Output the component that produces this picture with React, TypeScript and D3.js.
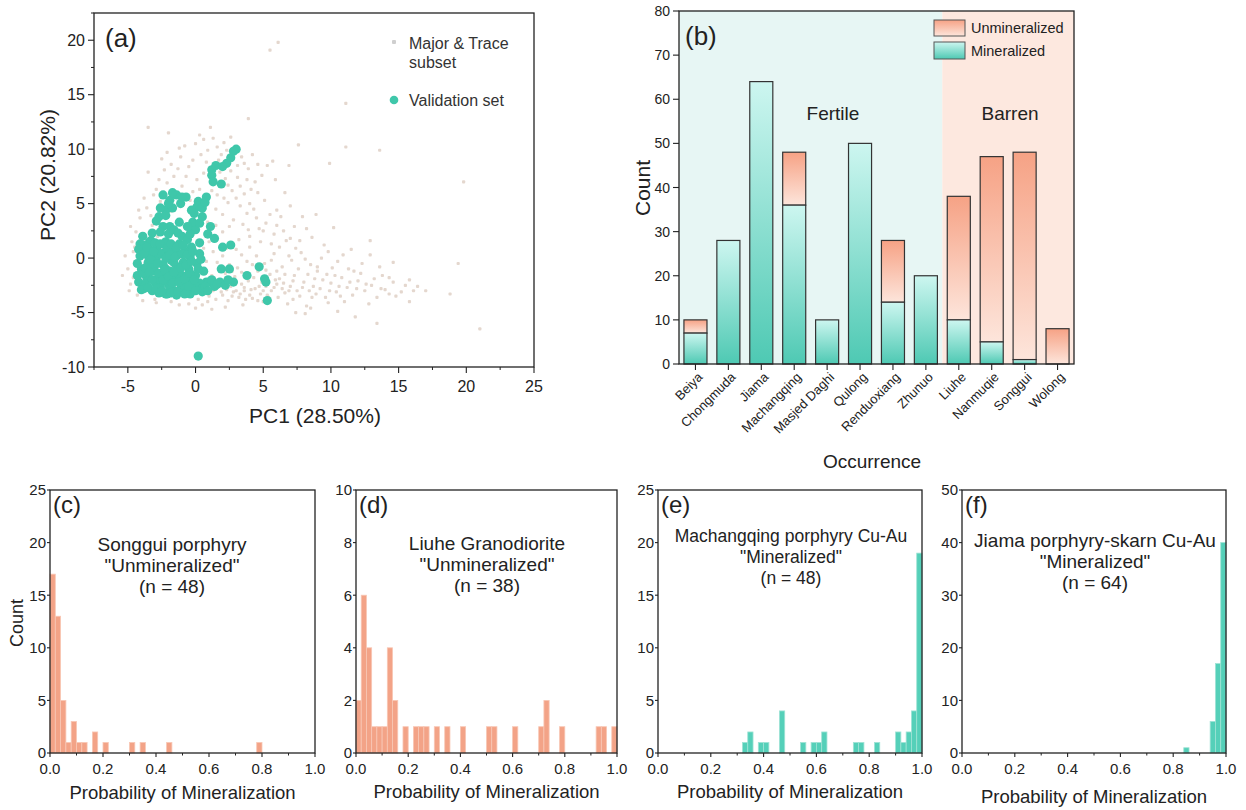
import React from 'react';
import * as d3 from 'd3';

const FONT = '"Liberation Sans", Arial, Helvetica, sans-serif';

// ---- (a) PCA scores ----
const subsetPoints: [number, number][] = [
  [-4.8, -2.4], [-4.6, 0.6], [-4.4, 2.4], [-4.1, 3.7], [-3.6, 4.6], [-5.0, -1.0], [-4.3, -3.4], [-4.7, 1.5], [-3.9, -3.9],
  [-3.5, 7.9], [-2.1, 9.7], [-1.1, 9.3], [-2.3, 8.1], [-1.6, 7.5], [-0.8, 10.3], [0.0, 10.5], [0.6, 10.9], [1.3, 11.0],
  [1.6, 10.2], [2.1, 10.6], [2.6, 11.1], [-2.9, 6.3], [-2.1, 6.9], [-1.0, 6.6], [0.1, 7.2], [0.8, 8.8], [1.9, 9.5],
  [2.6, 8.0], [3.1, 8.5], [3.6, 8.7], [4.2, 9.5], [4.6, 8.6], [5.3, 8.5], [5.7, 8.9], [3.8, 7.2], [4.1, 6.3], [3.6, 5.9],
  [3.0, 5.5], [2.7, 6.2], [4.6, 6.0], [3.3, 4.8], [2.4, 5.1], [2.0, 4.0], [2.8, 3.5], [3.5, 3.1], [4.5, 3.7], [5.0, 2.5],
  [4.0, 2.0], [3.2, 1.7], [4.8, 1.5], [5.6, 1.3], [6.0, 3.0], [6.5, 2.5], [7.0, 1.8], [5.5, 4.0], [-3.2, 3.0], [-2.8, 2.0],
  [-3.8, 5.5], [-0.5, 8.4], [0.3, 6.3], [1.5, 4.5], [-1.8, 4.3], [-0.4, 5.3], [0.9, 3.3], [1.2, 6.2], [2.2, 7.3], [3.3, 6.6],
  [4.0, 5.0], [5.1, 5.3], [-2.6, 5.2], [-1.3, 8.2], [0.4, 9.5], [1.0, 7.6], [2.0, 2.4], [1.0, 1.5], [0.5, 0.4], [1.6, -0.4],
  [-0.8, -0.2],
  [-0.2, 9.0], [0.9, 9.9], [1.7, 9.0], [2.3, 9.9], [3.4, 9.3], [3.9, 8.2], [4.9, 7.6], [5.9, 7.2], [4.4, 7.0], [3.1, 7.4],
  [2.4, 6.7], [1.6, 5.8], [2.1, 5.5], [3.8, 4.1], [4.3, 4.5], [5.2, 3.2], [5.8, 2.2], [6.3, 3.8], [7.3, 2.9], [3.9, 2.6],
  [2.5, 2.9], [1.5, 3.0], [-0.7, 7.5], [-1.8, 8.6], [-2.7, 7.2], [-3.1, 5.8], [-0.2, 6.1], [0.6, 7.8], [1.8, 7.9],
  [-1.2, 10.1], [-2.5, 9.1], [0.3, 11.3], [1.1, 12.0], [6.6, 6.0], [7.0, 4.8], [7.9, 3.8], [8.6, 1.9], [9.0, -0.8],
  [-5.2, 0.2], [-4.9, -3.0], [-4.6, -1.8], [-4.5, 1.0], [-4.8, 2.9], [-4.2, 4.4], [-3.3, 3.9], [-2.9, -4.1], [-1.2, -4.3],
  [0.0, -4.6], [1.2, -4.7], [-5.4, -1.6],
  [5.5, 19.1], [6.1, 19.8], [11.1, 14.2], [3.9, 12.8], [7.6, 10.4], [11.1, 10.2], [13.6, 9.9], [9.9, 8.7], [19.8, 7.0],
  [12.9, 1.6], [12.9, 0.3], [14.6, -0.4], [19.4, -0.5], [15.8, -2.0], [16.1, -3.0], [17.0, -3.0], [18.8, -3.3], [15.8, -4.0],
  [11.8, -5.4], [13.4, -6.0], [21.0, -6.5], [7.4, -5.0], [8.1, -5.1], [14.3, -1.8], [13.6, -0.8], [8.2, 2.7], [7.7, 1.6],
  [6.7, 1.6], [6.0, 4.4], [4.7, 2.7], [9.5, 1.2], [8.9, 4.0], [10.2, 2.8], [6.9, 8.5], [-3.5, 12.0], [-2.0, 11.5], [8.5, -4.6],
  [10.5, -4.9],
  [1.0, -3.5], [1.5, -3.8], [2.0, -3.4], [2.4, -3.9], [2.8, -3.1], [3.2, -3.6], [3.6, -3.0], [4.0, -3.4], [4.4, -2.8],
  [4.8, -3.3], [5.2, -2.6], [5.6, -3.0], [6.0, -2.4], [1.2, -1.6], [1.8, -2.0], [2.2, -1.4], [2.9, -1.7], [3.4, -2.4],
  [3.9, -2.1], [4.3, -1.8], [4.9, -2.2], [5.5, -1.5], [6.2, -1.9], [6.6, -3.2], [7.0, -2.6], [7.3, -1.6], [7.7, -3.5],
  [8.0, -2.2], [8.4, -3.0], [8.8, -1.9], [9.2, -2.8], [9.6, -3.6], [10.0, -2.3], [10.4, -3.1], [10.8, -1.8], [11.2, -2.7],
  [11.6, -3.4], [12.0, -2.1], [12.5, -3.0], [13.0, -2.5], [13.4, -3.6], [14.0, -2.9], [14.6, -2.2], [15.2, -3.1], [2.5, -0.6],
  [3.1, -0.9], [3.8, -0.3], [4.5, 0.2], [5.1, -0.5], [5.8, 0.4], [6.4, -0.8], [7.1, -0.2], [7.8, 0.5], [8.5, -0.6], [9.3, 0.0],
  [10.1, -0.9], [10.9, 0.3], [11.7, -1.2], [6.8, -4.2], [8.2, -4.4], [9.8, -4.1], [5.0, -4.0], [3.5, -4.3], [2.2, -4.5],
  [0.5, -4.3], [-0.5, -4.2], [-1.8, -4.0], [-3.0, -3.8], [11.0, -4.0], [12.8, -4.2], [1.6, -2.7], [2.6, -2.6], [3.0, -3.0],
  [4.2, -3.7], [5.4, -3.6], [6.4, -2.8], [7.5, -3.0], [8.6, -3.6], [9.0, -1.2], [7.6, -1.0], [6.0, -1.2], [4.6, -1.2],
  [3.4, -1.3], [10.6, -2.6], [12.2, -1.4], [13.8, -1.6], [14.8, -3.5], [1.8, -0.8], [0.8, -0.3], [1.3, 0.6], [2.0, 0.2],
  [3.0, 0.8], [4.0, 1.0], [0.6, 0.9],
  [0.2, -3.8], [0.9, -4.0], [1.3, -3.0], [1.9, -3.1], [2.3, -2.9], [2.7, -3.5], [3.3, -3.3], [3.7, -3.8], [4.1, -2.9],
  [4.6, -3.9], [5.0, -3.0], [5.3, -3.4], [5.8, -2.7], [6.1, -3.6], [6.5, -2.3], [6.9, -3.0], [7.2, -3.8], [7.9, -2.7],
  [8.3, -1.5], [8.7, -2.6], [9.4, -2.0], [9.9, -3.0], [10.3, -1.6], [10.7, -3.5], [11.4, -2.2], [11.9, -2.8], [12.6, -2.4],
  [13.2, -1.9], [13.7, -2.8], [14.3, -3.3], [15.5, -2.5], [16.4, -2.6], [2.1, -2.3], [3.6, -2.7], [4.7, -2.6], [5.9, -2.0],
  [7.2, -2.1], [8.9, -3.3], [9.7, -1.5], [11.3, -1.0], [6.6, -1.5], [5.2, -1.1], [3.9, -1.5], [2.7, -1.2], [4.2, -0.6],
  [5.6, -0.2], [6.9, 0.2], [8.1, -0.1], [9.8, 0.6], [10.5, -0.3], [11.5, 0.8], [12.3, -0.5], [3.4, 0.3], [2.3, 0.9],
  [6.2, 1.0], [7.4, 0.9],
];

const validationPoints: [number, number][] = [
  [3.0, 10.0], [2.3, 8.7], [1.2, 8.1], [1.2, 7.6], [1.9, 6.8], [0.8, 5.6], [0.1, 4.7], [-0.1, 4.1], [-1.2, 3.3], [-0.7, 5.6],
  [-1.4, 5.8], [-1.9, 5.3], [-2.2, 4.4], [-2.7, 3.8], [-1.9, 2.9], [-0.1, 2.7], [0.5, 3.8], [0.9, 2.2], [1.4, 1.8], [2.0, 1.0],
  [2.6, 1.2], [-4.1, 1.3], [-3.4, 1.5], [1.9, -1.0], [2.5, -1.0], [4.7, -0.8], [3.8, -1.6], [5.1, -1.9], [5.2, -2.2],
  [5.3, -3.9], [1.8, -2.2], [2.8, -2.2], [0.8, -2.2], [0.5, -3.1], [-0.4, -3.3], [-1.4, -3.4], [-2.2, -3.3], [0.2, -9.0],
  [-4.2, -2.2], [-4.0, -1.0], [-4.1, 0.2], [-3.9, 1.2], [-3.8, -2.8], [-3.6, -1.8], [-3.5, -0.4], [-3.4, 0.8], [-3.3, 1.6],
  [-3.2, -3.0], [-3.0, -2.2], [-3.0, -1.2], [-2.9, 0.0], [-2.8, 1.1], [-2.7, -3.2], [-2.6, -2.6], [-2.5, -1.6], [-2.4, -0.6],
  [-2.3, 0.5], [-2.2, 1.5], [-2.1, -3.3], [-2.0, -2.4], [-1.9, -1.2], [-1.8, -0.2], [-1.7, 0.8], [-1.6, -3.0], [-1.5, -2.0],
  [-1.4, -0.8], [-1.3, 0.3], [-1.2, 1.3], [-1.1, -2.8], [-1.0, -1.6], [-0.9, -0.4], [-0.8, 0.6], [-0.7, -3.1], [-0.6, -2.2],
  [-0.5, -1.0], [-0.4, 0.1], [-0.3, 1.0], [-0.2, -2.7], [0.0, -1.6], [0.1, -0.5], [0.3, 0.4], [-3.7, -2.4], [-3.1, -0.8],
  [-2.6, 0.4], [-2.2, -1.0], [-1.9, -2.8], [-1.3, -1.4], [-0.9, -2.4], [-3.5, 0.2], [-4.3, -1.6], [-2.8, -1.9], [-1.6, -0.4],
  [-0.6, -1.6], [0.3, -2.3], [0.6, -1.2], [0.5, -2.8], [1.0, -2.2], [1.4, -2.6], [-2.0, 2.2], [-1.6, 2.6], [-2.4, 2.9],
  [-1.0, 2.0], [-0.6, 1.7], [0.0, 2.6], [-0.2, 3.3], [-2.9, 3.4], [-2.2, 3.9], [-1.7, 4.6], [-1.1, 5.0],
  [-4.3, -0.5], [-4.2, 0.8], [-4.0, -2.9], [-3.9, -1.4], [-3.8, 0.4], [-3.7, -0.9], [-3.6, 1.0], [-3.5, -2.7], [-3.4, -1.3],
  [-3.3, -0.1], [-3.2, -2.0], [-3.1, 0.6], [-3.0, 1.4], [-2.9, -2.8], [-2.8, -0.5], [-2.7, -1.4], [-2.6, 1.3], [-2.5, -3.0],
  [-2.4, -2.0], [-2.3, -1.1], [-2.2, 0.0], [-2.1, 0.9], [-2.0, -1.7], [-1.9, 0.3], [-1.8, -3.2], [-1.8, 1.3], [-1.7, -2.3],
  [-1.6, -1.3], [-1.5, 0.1], [-1.4, 1.0], [-1.3, -3.1], [-1.2, -2.2], [-1.1, -0.9], [-1.0, 0.4], [-0.9, 1.2], [-0.8, -3.3],
  [-0.8, -1.9], [-0.7, -0.6], [-0.6, 0.3], [-0.5, -2.6], [-0.4, -1.4], [-0.3, -0.3], [-0.2, 0.6], [-0.1, -2.0], [0.0, -3.0],
  [0.2, -1.0], [0.4, -0.1], [0.7, -2.6], [0.9, -3.0], [1.2, -2.0], [1.6, -2.4], [2.2, -2.5], [2.4, -2.0], [-3.9, 2.0],
  [-3.2, 2.3], [-2.6, 2.4], [-1.3, 2.3], [-0.4, 2.2], [0.3, 1.4], [-2.6, 4.6], [-2.0, 5.0], [-1.0, 5.6], [-0.3, 4.4],
  [0.2, 5.2], [0.5, 4.6], [-2.4, 5.8], [-1.7, 6.0], [0.3, 3.2], [-0.6, 2.9], [1.1, 2.9], [1.3, 7.0], [1.5, 8.5], [2.6, 9.2],
  [2.8, 9.8], [2.0, 8.4], [0.7, 5.1],
];

const pcXTicks = [-5, 0, 5, 10, 15, 20, 25];
const pcYTicks = [-10, -5, 0, 5, 10, 15, 20];

// ---- (b) counts per occurrence ----
const occurrences = ['Beiya', 'Chongmuda', 'Jiama', 'Machangqing', 'Masjed Daghi', 'Qulong', 'Renduoxiang', 'Zhunuo', 'Liuhe', 'Nanmuqie', 'Songgui', 'Wolong'];
const mineralizedCounts = [7, 28, 64, 36, 10, 50, 14, 20, 10, 5, 1, 0];
const unmineralizedCounts = [3, 0, 0, 12, 0, 0, 14, 0, 28, 42, 47, 8];
const fertileOccurrences = occurrences.slice(0, 8);
const countTicks = [0, 10, 20, 30, 40, 50, 60, 70, 80];

// ---- (c)-(f) histograms: [bin start, count], bin width 0.02 ----
const binWidth = 0.02;
const songguiBins: [number, number][] = [[0, 17], [0.02, 13], [0.04, 5], [0.06, 1], [0.08, 3], [0.10, 1], [0.12, 1], [0.16, 2], [0.20, 1], [0.30, 1], [0.34, 1], [0.44, 1], [0.78, 1]];
const liuheBins: [number, number][] = [[0, 2], [0.02, 6], [0.04, 4], [0.06, 1], [0.08, 1], [0.10, 1], [0.12, 4], [0.14, 2], [0.18, 1], [0.22, 1], [0.24, 1], [0.26, 1], [0.30, 1], [0.34, 1], [0.40, 1], [0.50, 1], [0.52, 1], [0.60, 1], [0.70, 1], [0.72, 2], [0.78, 1], [0.92, 1], [0.94, 1], [0.98, 1]];
const machangqingBins: [number, number][] = [[0.32, 1], [0.34, 2], [0.38, 1], [0.40, 1], [0.46, 4], [0.54, 1], [0.58, 1], [0.60, 1], [0.62, 2], [0.74, 1], [0.76, 1], [0.82, 1], [0.90, 2], [0.92, 1], [0.94, 2], [0.96, 4], [0.98, 19]];
const jiamaBins: [number, number][] = [[0.84, 1], [0.94, 6], [0.96, 17], [0.98, 40]];
const probTicks = [0, 0.2, 0.4, 0.6, 0.8, 1.0];

const TEAL = '#3fc7aa';
const SALMON = '#f3a387';
const AXIS = '#222';

function LeftAxis({ scale, ticks, x, len = 5, gap = 8, size = 15, fmt = (v: number) => String(v) }: any) {
  return (
    <g>
      {ticks.map((t: number) => (
        <g key={t}>
          <line x1={x} x2={x - len} y1={scale(t)} y2={scale(t)} stroke={AXIS} strokeWidth={1.1} />
          <text x={x - gap} y={scale(t)} dy="0.36em" textAnchor="end" fontSize={size} fill="#222">{fmt(t)}</text>
        </g>
      ))}
    </g>
  );
}

function BottomAxis({ scale, ticks, y, len = 5, labelY, size = 15, fmt = (v: number) => String(v) }: any) {
  return (
    <g>
      {ticks.map((t: number) => (
        <g key={t}>
          <line x1={scale(t)} x2={scale(t)} y1={y} y2={y + len} stroke={AXIS} strokeWidth={1.1} />
          <text x={scale(t)} y={labelY} textAnchor="middle" fontSize={size} fill="#222">{fmt(t)}</text>
        </g>
      ))}
    </g>
  );
}

function MinorTicks({ values, scale, at, orient, len = 3 }: any) {
  return (
    <g>
      {values.map((v: number) =>
        orient === 'left'
          ? <line key={v} x1={at} x2={at - len} y1={scale(v)} y2={scale(v)} stroke={AXIS} strokeWidth={1} />
          : <line key={v} x1={scale(v)} x2={scale(v)} y1={at} y2={at + len} stroke={AXIS} strokeWidth={1} />
      )}
    </g>
  );
}

function PanelA() {
  const x = d3.scaleLinear().domain([-7.5, 25]).range([94, 534]);
  const y = d3.scaleLinear().domain([-10, 22.5]).range([367, 13]);
  const xMinor = d3.range(-7.5, 25, 5);
  const yMinor = d3.range(-7.5, 22.6, 5);
  return (
    <g>
      {subsetPoints.map((p, i) => (
        <rect key={'s' + i} x={x(p[0]) - 1.6} y={y(p[1]) - 1.6} width={3.2} height={3.2} rx={1} fill="#d9c6b9" opacity={0.7} />
      ))}
      {validationPoints.map((p, i) => (
        <circle key={'v' + i} cx={x(p[0])} cy={y(p[1])} r={4.6} fill={TEAL} />
      ))}
      <rect x={94} y={13} width={440} height={354} fill="none" stroke={AXIS} strokeWidth={1.3} />
      <LeftAxis scale={y} ticks={pcYTicks} x={94} len={6} gap={9} size={16} />
      <MinorTicks values={yMinor} scale={y} at={94} orient="left" len={3} />
      <BottomAxis scale={x} ticks={pcXTicks} y={367} len={6} labelY={392} size={16} />
      <MinorTicks values={xMinor} scale={x} at={367} orient="bottom" len={3} />
      <text x={105} y={47} fontSize={26} fill="#222">(a)</text>
      <rect x={392} y={40} width={4} height={4} rx={1} fill="#cfcfcf" />
      <text x={409} y={49} fontSize={16} fill="#333">Major &amp; Trace</text>
      <text x={409} y={68} fontSize={16} fill="#333">subset</text>
      <circle cx={394} cy={100} r={4.3} fill={TEAL} />
      <text x={409} y={106} fontSize={16} fill="#333">Validation set</text>
      <text x={315} y={423} textAnchor="middle" fontSize={21} fill="#222">PC1 (28.50%)</text>
      <text transform="translate(47,175) rotate(-90)" textAnchor="middle" dy="0.36em" fontSize={21} fill="#222">PC2 (20.82%)</text>
    </g>
  );
}

function PanelB() {
  const x = d3.scaleBand<string>().domain(occurrences).range([679, 1074]).paddingInner(0.3).paddingOuter(0.15);
  const y = d3.scaleLinear().domain([0, 80]).range([364, 11]);
  const step = x.step();
  const split = (x(fertileOccurrences[fertileOccurrences.length - 1]) as number) + x.bandwidth() + (step - x.bandwidth()) / 2;
  return (
    <g>
      <defs>
        <linearGradient id="gTeal" x1="0" y1="0" x2="0" y2="1">
          <stop offset="0%" stopColor="#cdf6f0" />
          <stop offset="100%" stopColor="#4ec9b3" />
        </linearGradient>
        <linearGradient id="gSalmon" x1="0" y1="0" x2="0" y2="1">
          <stop offset="0%" stopColor="#f6a285" />
          <stop offset="100%" stopColor="#fde5db" />
        </linearGradient>
      </defs>
      <rect x={679} y={11} width={split - 679} height={353} fill="#e7f6f4" />
      <rect x={split} y={11} width={1074 - split} height={353} fill="#fde8df" />
      {occurrences.map((o, i) => {
        const bx = x(o) as number;
        const m = mineralizedCounts[i];
        const u = unmineralizedCounts[i];
        return (
          <g key={o}>
            {u > 0 && (
              <rect x={bx} y={y(m + u)} width={x.bandwidth()} height={y(m) - y(m + u)} fill="url(#gSalmon)" stroke="#333" strokeWidth={1.2} />
            )}
            {m > 0 && (
              <rect x={bx} y={y(m)} width={x.bandwidth()} height={y(0) - y(m)} fill="url(#gTeal)" stroke="#333" strokeWidth={1.2} />
            )}
          </g>
        );
      })}
      <rect x={679} y={11} width={395} height={353} fill="none" stroke={AXIS} strokeWidth={1.3} />
      <LeftAxis scale={y} ticks={countTicks} x={679} len={6} gap={9} size={14} />
      {occurrences.map((o) => {
        const cx = (x(o) as number) + x.bandwidth() / 2;
        return (
          <g key={'t' + o}>
            <line x1={cx} x2={cx} y1={364} y2={370} stroke={AXIS} strokeWidth={1.1} />
            <text transform={`translate(${cx + 8},${378}) rotate(-45)`} textAnchor="end" fontSize={13} fill="#222">{o}</text>
          </g>
        );
      })}
      <text x={685} y={45} fontSize={26} fill="#222">(b)</text>
      <text x={833} y={120} textAnchor="middle" fontSize={19} fill="#222">Fertile</text>
      <text x={1010} y={120} textAnchor="middle" fontSize={19} fill="#222">Barren</text>
      <rect x={934} y={20} width={31} height={16} fill="url(#gSalmon)" stroke="#555" strokeWidth={1} />
      <rect x={934} y={42} width={31} height={17} fill="url(#gTeal)" stroke="#555" strokeWidth={1} />
      <text x={971} y={33} fontSize={14.5} fill="#222">Unmineralized</text>
      <text x={971} y={55.5} fontSize={14.5} fill="#222">Mineralized</text>
      <text transform="translate(642,188) rotate(-90)" textAnchor="middle" dy="0.36em" fontSize={21} fill="#222">Count</text>
      <text x={872} y={468} textAnchor="middle" fontSize={19} fill="#222">Occurrence</text>
    </g>
  );
}

function Histogram({ x0, x1, ymax, ystep, bins, color, edge, label, lines, textX, textY, textSize, showYLabel, xLabelY }: any) {
  const y0 = 753;
  const yTop = 490;
  const x = d3.scaleLinear().domain([0, 1]).range([x0, x1]);
  const y = d3.scaleLinear().domain([0, ymax]).range([y0, yTop]);
  const yTicks = d3.range(0, ymax + ystep / 2, ystep);
  return (
    <g>
      {bins.map((b: [number, number], i: number) => (
        <rect key={i} x={x(b[0])} y={y(b[1])} width={x(b[0] + binWidth) - x(b[0])} height={y0 - y(b[1])} fill={color} stroke={edge} strokeWidth={0.8} />
      ))}
      <rect x={x0} y={yTop} width={x1 - x0} height={y0 - yTop} fill="none" stroke={AXIS} strokeWidth={1.3} />
      <LeftAxis scale={y} ticks={yTicks} x={x0} len={3} gap={4} size={15} />
      <BottomAxis scale={x} ticks={probTicks} y={y0} len={4} labelY={774} size={15} fmt={d3.format('.1f')} />
      <MinorTicks values={[0.1, 0.3, 0.5, 0.7, 0.9]} scale={x} at={y0} orient="bottom" len={2.5} />
      <text x={x0 + 3} y={513} fontSize={24} fill="#222">{label}</text>
      {lines.map((l: string, i: number) => (
        <text key={i} x={textX} y={textY + i * 21} textAnchor="middle" fontSize={textSize} fill="#222">{l}</text>
      ))}
      {showYLabel && (
        <text transform={`translate(17,623) rotate(-90)`} textAnchor="middle" dy="0.36em" fontSize={18} fill="#222">Count</text>
      )}
      <text x={(x0 + x1) / 2} y={xLabelY} textAnchor="middle" fontSize={18.5} fill="#222">Probability of Mineralization</text>
    </g>
  );
}

export default function App() {
  return (
    <svg width={1246} height={810} viewBox="0 0 1246 810" style={{ position: 'absolute', left: 0, top: 0, background: '#fff' }} fontFamily={FONT}>
      <rect width={1246} height={810} fill="#fff" />
      <PanelA />
      <PanelB />
      <Histogram x0={50} x1={315} ymax={25} ystep={5} bins={songguiBins} color={SALMON} edge="#f8c7b5" label="(c)"
        lines={['Songgui porphyry', '"Unmineralized"', '(n = 48)']} textX={172} textY={551} textSize={19} showYLabel xLabelY={799} />
      <Histogram x0={356} x1={617} ymax={10} ystep={2} bins={liuheBins} color={SALMON} edge="#f8c7b5" label="(d)"
        lines={['Liuhe Granodiorite', '"Unmineralized"', '(n = 38)']} textX={487} textY={550} textSize={19} xLabelY={798} />
      <Histogram x0={658} x1={922} ymax={25} ystep={5} bins={machangqingBins} color="#55d0b9" edge="#9fe3d5" label="(e)"
        lines={['Machangqing porphyry Cu-Au', '"Mineralized"', '(n = 48)']} textX={791} textY={542} textSize={17.5} xLabelY={798} />
      <Histogram x0={962} x1={1226} ymax={50} ystep={10} bins={jiamaBins} color="#55d0b9" edge="#9fe3d5" label="(f)"
        lines={['Jiama porphyry-skarn Cu-Au', '"Mineralized"', '(n = 64)']} textX={1095} textY={547} textSize={19} xLabelY={803} />
    </svg>
  );
}
